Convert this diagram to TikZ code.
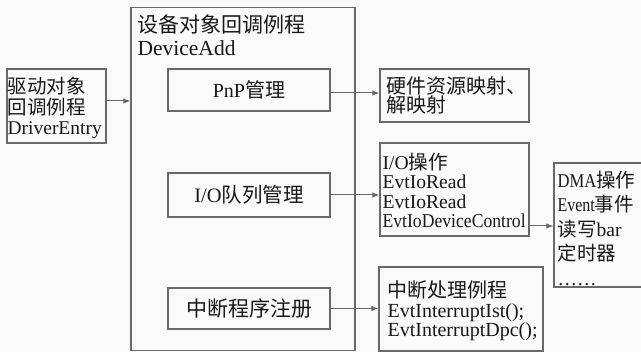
\documentclass[tikz,border=0pt]{standalone}
\usepackage{graphicx}
\usepackage{fontspec}
\setmainfont{Liberation Serif}
\newfontfamily\cjk{Noto Sans CJK SC}
\newcommand\zh[1]{{\cjk #1}}
\usetikzlibrary{arrows.meta}
\definecolor{linegray}{RGB}{105,105,105}
\definecolor{bgcol}{RGB}{250,250,250}
\definecolor{inkcol}{RGB}{24,24,24}
\tikzset{
  box/.style={draw=linegray, line width=1.2pt, rectangle, inner sep=0pt},
  label/.style={inner sep=0pt, text=inkcol, align=left},
  conn/.style={draw=linegray, line width=1pt, -{Latex[length=7pt,width=5.5pt]}},
}
\begin{document}
\begin{tikzpicture}[x=1pt,y=-1pt]
\clip (0,0) rectangle (641,352);
\fill[bgcol] (0,0) rectangle (641,352);

% driver entry box
\node[box, minimum width=99pt, minimum height=74pt] (drv) at (56.5,106) {};
\node[label, anchor=west, font=\fontsize{19.5}{20.5}\selectfont] (drvtext) at ([xshift=1pt,yshift=-2pt]drv.west)
  {\zh{驱动对象}\\\zh{回调例程}\\DriverEntry};

% device add routine (large frame)
\node[box, minimum width=224pt, minimum height=343pt] (dev) at (243,179) {};
\node[label, anchor=north west, font=\fontsize{21}{23}\selectfont] (devtitle) at ([xshift=7pt,yshift=-8pt]dev.north west)
  {\zh{设备对象回调例程}\\\fontsize{21.5}{23}\selectfont DeviceAdd};

% inner boxes
\node[box, minimum width=162pt, minimum height=42pt, font=\fontsize{20}{20}\selectfont, text=inkcol] (pnp) at (249,90) {PnP\zh{管理}};
\node[box, minimum width=162pt, minimum height=44pt, font=\fontsize{20.5}{20}\selectfont, text=inkcol] (ioq) at (249,195) {I/O\zh{队列管理}};
\node[box, minimum width=162pt, minimum height=41pt, font=\fontsize{21}{21}\selectfont, text=inkcol] (isr) at (249,308.5) {\zh{中断程序注册}};

% right column
\node[box, minimum width=149pt, minimum height=53pt] (hw) at (454.5,95.5) {};
\node[label, anchor=west, font=\fontsize{20}{19.5}\selectfont] (hwtext) at ([xshift=6.5pt]hw.west)
  {\zh{硬件资源映射、}\\\zh{解映射}};

\node[box, minimum width=149pt, minimum height=93pt] (ioop) at (454.5,189.5) {};
\node[label, anchor=west, font=\fontsize{19.6}{19.5}\selectfont] (iooptext) at ([xshift=3pt,yshift=-1pt]ioop.west)
  {I/O\zh{操作}\\EvtIoRead\\EvtIoRead\\\scalebox{0.9}[1]{EvtIoDeviceControl}};

\node[box, minimum width=96pt, minimum height=124pt] (dma) at (602,225) {};
\node[label, anchor=west, font=\fontsize{19.5}{24.5}\selectfont] (dmatext) at ([xshift=4pt,yshift=-3pt]dma.west)
  {\scalebox{0.85}[1]{DMA}\zh{操作}\\\scalebox{0.82}[1]{Event}\zh{事件}\\\zh{读写}bar\\\zh{定时器}\\\textellipsis\textellipsis};

\node[box, minimum width=164pt, minimum height=84pt] (ih) at (461,309) {};
\node[label, anchor=west, font=\fontsize{20}{19.5}\selectfont] (ihtext) at ([xshift=9pt,yshift=-2pt]ih.west)
  {\zh{中断处理例程}\\EvtInterruptIst();\\EvtInterruptDpc();};

% connectors
\draw[conn] ([yshift=5pt]drv.east) -- ([yshift=5pt]drv.east -| dev.west);
\draw[conn] ([yshift=-3pt]pnp.east) -- ([yshift=-3pt]pnp.east -| hw.west);
\draw[conn] (ioq.east) -- (ioq.east -| ioop.west);
\draw[conn] ([yshift=-36.5pt]ioop.east) -- ([yshift=-36.5pt]ioop.east -| dma.west);
\draw[conn] (isr.east) -- (isr.east -| ih.west);
\end{tikzpicture}
\end{document}
